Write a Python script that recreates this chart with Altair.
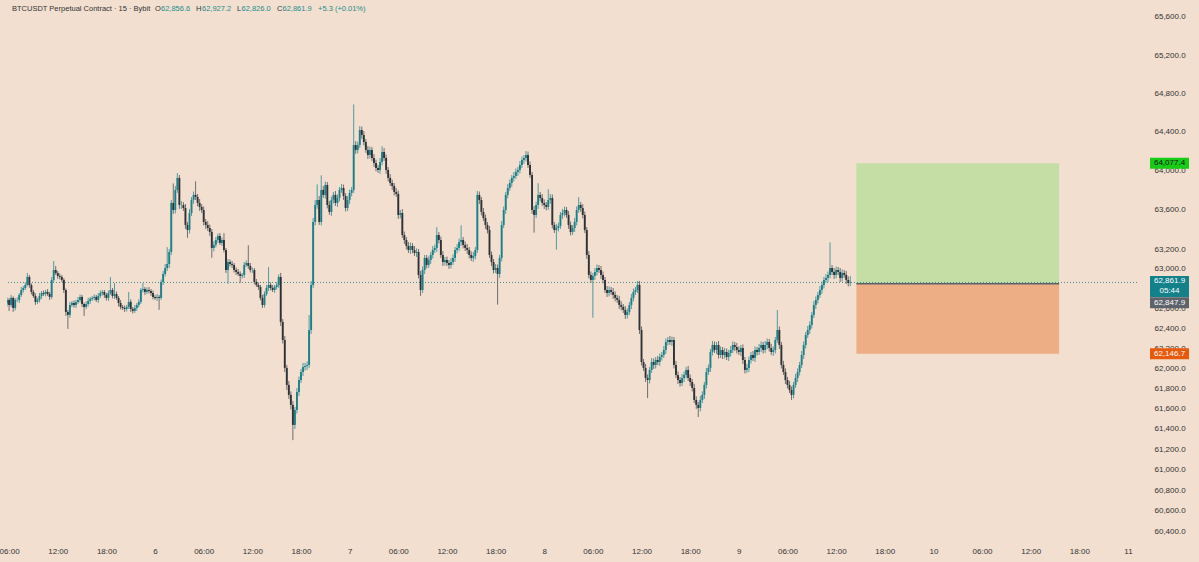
import altair as alt
import pandas as pd

# ---------------- data ----------------
# 15-minute candles, first bar opens day 5 05:45, last bar day 9 13:45
START_HOUR = 5.75      # hours after day-5 00:00
BAR_HOURS = 0.25
FIRST_OPEN = 62650.0

closes_1 = [62686, 62635, 62706, 62605, 62686, 62686, 62736, 62786, 62806, 62837, 62918, 62837, 62766, 62726,
            62666, 62686, 62726, 62756, 62746, 62766, 62746, 62716, 62887, 62988, 62958, 62928, 62918, 62887,
            62786, 62565, 62535, 62635, 62655, 62635, 62666, 62686, 62716, 62645, 62615, 62645, 62676, 62696,
            62706, 62716, 62686, 62726, 62756, 62766, 62736]
closes_2 = [62706, 62756, 62786, 62726, 62746, 62706, 62655, 62615, 62605, 62595, 62615, 62666, 62595, 62575,
            62605, 62635, 62666, 62786, 62796, 62766, 62786, 62776, 62756, 62716, 62706, 62716, 62706, 62867,
            62948, 63008, 63049, 63171, 63670, 63598, 63803, 63926, 63649, 63649, 63618, 63445, 63394, 63567,
            63700, 63752, 63731, 63670, 63629, 63598, 63476, 63445, 63414, 63374, 63211, 63242]
closes_3 = [63292, 63333, 63262, 63292, 63191, 62988, 63069, 63049, 63039, 62988, 62968, 62948, 62928, 62938,
            63039, 63059, 63029, 62988, 62988, 62867, 62837, 62816, 62706, 62635, 62746, 62806, 62837, 62806,
            62786, 62816, 62837, 62918, 62465, 62284, 62005, 61836, 61737, 61638, 61440, 61588, 61766, 61885,
            61965, 62015, 62025, 62035, 62384, 62837, 63476, 63649, 63700, 63476]
closes_4 = [63803, 63752, 63854, 63649, 63578, 63700, 63752, 63670, 63721, 63803, 63823, 63741, 63618, 63700,
            63772, 63803, 64265, 64214, 64265, 64420, 64369, 64296, 64214, 64162, 64214, 64131, 64080, 64029,
            64008, 64090, 64193, 64131, 64008, 63926, 63874, 63844, 63782, 63762, 63547, 63567, 63343, 63292,
            63231, 63191, 63231, 63191, 63160, 63171, 62938, 62786, 62988, 63110]
closes_5 = [63039, 63089, 63140, 63191, 63211, 63343, 63292, 63140, 63069, 63089, 63059, 63039, 63069, 63110,
            63191, 63211, 63272, 63292, 63242, 63211, 63191, 63140, 63110, 63130, 63191, 63752, 63700, 63578,
            63516, 63445, 63394, 63140, 63069, 62988, 63008, 62948, 63110, 63445, 63598, 63752, 63823, 63874,
            63926, 63946, 63988, 64008, 64059, 64111, 64131, 64162, 64059]
closes_6 = [63957, 63598, 63547, 63649, 63752, 63721, 63670, 63649, 63629, 63700, 63721, 63445, 63394, 63414,
            63435, 63547, 63567, 63598, 63547, 63445, 63374, 63414, 63476, 63598, 63649, 63618, 63547, 63394,
            63140, 62938, 62887, 62928, 62968, 63008, 62988, 62938, 62887, 62786, 62756, 62786, 62766, 62736,
            62706, 62686, 62635, 62615, 62585, 62535, 62565, 62635, 62706, 62766, 62786]
closes_7 = [62837, 62384, 62064, 62005, 61905, 61885, 61985, 62064, 62035, 62084, 62064, 62114, 62134, 62184,
            62264, 62284, 62264, 62284, 62035, 61935, 61885, 61855, 61905, 61935, 61985, 61905, 61865, 61806,
            61687, 61638, 61608, 61687, 61737, 61836, 61965, 62005, 62164, 62234, 62184, 62234, 62134, 62184,
            62134, 62164, 62114, 62154, 62184, 62234, 62214, 62184, 62164, 62204]
closes_8 = [62084, 61985, 62005, 62084, 62134, 62104, 62184, 62164, 62204, 62234, 62184, 62234, 62264, 62204,
            62164, 62184, 62284, 62384, 62234, 62035, 61965, 61885, 61836, 61786, 61737, 61836, 61905, 61965,
            62035, 62134, 62234, 62334, 62384, 62434, 62535, 62635, 62686, 62736, 62786, 62837, 62887, 62907,
            62938, 63008, 62968, 62938, 62988, 62968, 62907, 62958, 62938, 62887, 62856.6, 62861.9]

# upper / lower wick lengths (price units) beyond the candle body
upper_1 = [25, 20, 30, 15, 20, 25, 20, 30, 20, 25, 40, 20, 15, 20, 25, 20, 30, 20, 25, 20, 30, 20, 30, 90, 40,
           20, 25, 20, 20, 15, 20, 30, 20, 25, 20, 30, 25, 20, 15, 25, 30, 20, 20, 25, 20, 30, 25, 20, 20]
lower_1 = [30, 60, 20, 40, 25, 20, 30, 20, 25, 20, 15, 30, 25, 20, 30, 20, 25, 30, 20, 25, 20, 30, 20, 25, 20,
           30, 25, 20, 30, 40, 140, 30, 20, 25, 30, 20, 25, 30, 90, 20, 25, 30, 20, 25, 20, 30, 20, 25, 30]
upper_2 = [20, 25, 130, 20, 110, 25, 20, 30, 20, 25, 20, 100, 25, 20, 30, 20, 25, 20, 60, 20, 25, 30, 20, 25, 20,
           30, 20, 25, 30, 40, 170, 30, 30, 200, 40, 50, 30, 40, 30, 40, 30, 40, 30, 35, 140, 30, 40, 30, 35, 30,
           40, 35, 30, 40]
lower_2 = [25, 30, 20, 25, 30, 20, 35, 25, 20, 30, 25, 20, 30, 25, 20, 30, 25, 20, 25, 30, 20, 25, 30, 25, 20,
           30, 120, 20, 30, 25, 30, 40, 30, 40, 35, 30, 40, 40, 30, 40, 80, 35, 30, 40, 30, 35, 40, 30, 35, 40,
           30, 40, 100, 35]
upper_3 = [30, 25, 30, 25, 70, 20, 30, 25, 30, 20, 25, 30, 25, 20, 30, 25, 180, 30, 25, 20, 30, 25, 20, 30, 25,
           30, 180, 25, 30, 20, 30, 25, 40, 30, 40, 30, 40, 35, 40, 30, 40, 35, 30, 40, 30, 35, 150, 40, 40, 50,
           160, 40]
lower_3 = [25, 30, 20, 30, 25, 30, 140, 25, 30, 25, 30, 20, 70, 25, 30, 20, 30, 25, 30, 25, 20, 30, 25, 30, 25,
           20, 30, 25, 20, 30, 25, 30, 40, 35, 40, 50, 40, 45, 150, 40, 35, 40, 30, 40, 35, 40, 30, 40, 30, 35,
           40, 30]
upper_4 = [150, 40, 35, 30, 40, 35, 30, 40, 35, 30, 40, 35, 30, 40, 35, 30, 420, 40, 35, 40, 35, 40, 30, 40, 35,
           30, 40, 35, 30, 40, 60, 40, 35, 30, 40, 35, 30, 40, 35, 30, 40, 35, 30, 40, 35, 30, 40, 35, 30, 40,
           35, 30]
lower_4 = [35, 30, 40, 35, 30, 40, 35, 30, 40, 35, 30, 40, 35, 30, 40, 35, 30, 40, 35, 30, 40, 35, 30, 40, 35,
           30, 40, 35, 30, 40, 35, 30, 40, 35, 30, 40, 35, 30, 40, 35, 30, 40, 35, 30, 40, 35, 30, 40, 35, 60,
           30, 40]
upper_5 = [30, 35, 30, 40, 35, 80, 30, 35, 40, 30, 35, 30, 40, 35, 30, 40, 35, 150, 30, 35, 40, 30, 35, 40, 30,
           40, 35, 30, 40, 35, 30, 40, 35, 30, 40, 35, 30, 40, 35, 30, 40, 35, 30, 40, 35, 30, 40, 35, 30, 40, 35]
lower_5 = [35, 30, 40, 35, 30, 40, 35, 30, 40, 35, 30, 40, 35, 30, 40, 35, 30, 40, 35, 30, 40, 35, 30, 40, 35,
           30, 40, 35, 30, 40, 35, 30, 40, 35, 30, 310, 40, 35, 30, 40, 35, 30, 40, 35, 30, 40, 35, 30, 40, 35, 30]
upper_6 = [35, 30, 40, 35, 120, 30, 40, 35, 30, 110, 40, 35, 30, 40, 35, 30, 40, 35, 30, 40, 35, 30, 40, 35, 80,
           30, 40, 35, 30, 40, 35, 30, 40, 35, 30, 40, 35, 30, 40, 35, 30, 40, 35, 30, 40, 35, 30, 40, 35, 30,
           40, 35, 30]
lower_6 = [30, 40, 180, 30, 40, 35, 30, 40, 35, 30, 40, 35, 30, 200, 35, 30, 40, 35, 30, 40, 35, 30, 40, 35, 30,
           40, 35, 30, 40, 35, 30, 380, 40, 35, 30, 40, 35, 30, 40, 35, 30, 40, 35, 30, 40, 35, 30, 40, 35, 30,
           40, 35, 30]
upper_7 = [40, 40, 35, 30, 40, 35, 30, 40, 35, 30, 40, 35, 30, 40, 35, 30, 40, 35, 30, 40, 35, 30, 40, 35, 30,
           40, 35, 30, 40, 35, 30, 40, 35, 30, 40, 35, 30, 40, 35, 30, 40, 35, 30, 40, 35, 30, 40, 35, 30, 40,
           35, 30]
lower_7 = [30, 40, 35, 30, 40, 180, 35, 30, 40, 35, 30, 40, 35, 30, 40, 35, 30, 40, 35, 30, 40, 35, 30, 40, 35,
           30, 40, 35, 30, 40, 90, 35, 30, 40, 35, 30, 40, 35, 30, 40, 35, 30, 40, 35, 30, 40, 35, 30, 40, 35,
           30, 40]
upper_8 = [35, 30, 40, 35, 30, 40, 35, 30, 40, 35, 30, 40, 35, 30, 40, 35, 30, 200, 35, 30, 40, 35, 30, 40, 35,
           30, 40, 35, 30, 40, 35, 30, 40, 35, 30, 40, 35, 30, 40, 35, 30, 40, 35, 260, 30, 40, 35, 30, 40, 35,
           30, 40, 35, 65.3]
lower_8 = [40, 35, 30, 40, 35, 30, 40, 35, 30, 40, 35, 30, 40, 35, 30, 40, 35, 30, 40, 35, 30, 40, 35, 30, 50,
           35, 30, 40, 35, 30, 40, 35, 30, 40, 35, 30, 40, 35, 30, 40, 35, 30, 40, 35, 30, 40, 35, 30, 40, 35,
           30, 40, 35, 30.6]

# long-position tool
entry_price = [62847.9]
target_price = [64077.4]
stop_price = [62146.7]
tool_start = [110.5]   # hours after day-5 00:00
tool_end = [135.5]
last_price = [62861.9]

# price-scale labels (62,800 sits fully behind the last-price tag in the reference)
y_ticks = [60400, 60600, 60800, 61000, 61200, 61400, 61600, 61800, 62000, 62200, 62400, 62600,
           63000, 63200, 63600, 64000, 64400, 64800, 65200, 65600]
x_ticks = list(range(6, 145, 6))

# ---------------- styling ----------------
BG = "#f2dfd0"
BULL = "#19808a"
BEAR = "#2e3237"
BULL_WICK = "#4f9aa0"
BEAR_WICK = "#6e6e6e"
TEAL_TXT = "#1b8c8c"
DARK_TXT = "#333333"
FONT = "Liberation Sans, Arial"

closes = closes_1 + closes_2 + closes_3 + closes_4 + closes_5 + closes_6 + closes_7 + closes_8
uppers = upper_1 + upper_2 + upper_3 + upper_4 + upper_5 + upper_6 + upper_7 + upper_8
lowers = lower_1 + lower_2 + lower_3 + lower_4 + lower_5 + lower_6 + lower_7 + lower_8

rows = []
prev = FIRST_OPEN
for i, c in enumerate(closes):
    o = prev
    up = c >= o
    rows.append({
        "t": START_HOUR + i * BAR_HOURS,
        "open": o, "close": c,
        "high": max(o, c) + uppers[i],
        "low": min(o, c) - lowers[i],
        "body_color": BULL if up else BEAR,
        "wick_color": BULL_WICK if up else BEAR_WICK,
    })
    prev = c
df = pd.DataFrame(rows)

W, H = 1130, 540
xscale = alt.Scale(domain=[5.741, 145.11], nice=False, zero=False)
yscale = alt.Scale(type="log", domain=[60315, 65779], nice=False, zero=False)

label_expr = ("datum.value % 24 == 0 ? format(5 + datum.value / 24, 'd') : "
              "(datum.value % 24 < 10 ? '0' : '') + format(datum.value % 24, 'd') + ':00'")
xaxis = alt.Axis(values=x_ticks, labelExpr=label_expr, grid=False, ticks=False, domain=False,
                 title=None, labelFont=FONT, labelFontSize=8, labelColor=DARK_TXT, labelPadding=7,
                 labelOverlap=False, labelFlush=False)
yaxis = alt.Axis(values=y_ticks, format=",.1f", orient="right", grid=False, ticks=False, domain=False,
                 title=None, labelFont=FONT, labelFontSize=8, labelColor=DARK_TXT, labelPadding=17,
                 labelAlign="left", labelOverlap=False, labelFlush=False)

base = alt.Chart(df)
wicks = base.mark_rule(strokeWidth=1, clip=True).encode(
    x=alt.X("t:Q", scale=xscale, axis=xaxis),
    y=alt.Y("low:Q", scale=yscale, axis=yaxis),
    y2="high:Q",
    color=alt.Color("wick_color:N", scale=None),
)
bodies = base.mark_rule(strokeWidth=1.9, clip=True).encode(
    x="t:Q", y="open:Q", y2="close:Q",
    color=alt.Color("body_color:N", scale=None),
)

tool = pd.DataFrame({"t0": tool_start, "t1": tool_end, "entry": entry_price,
                     "target": target_price, "stop": stop_price})
tool_base = alt.Chart(tool)
profit = tool_base.mark_rect(color="#c4dea6", opacity=1).encode(x="t0:Q", x2="t1:Q", y="entry:Q", y2="target:Q")
loss = tool_base.mark_rect(color="#edae86", opacity=1).encode(x="t0:Q", x2="t1:Q", y="stop:Q", y2="entry:Q")
entry_line = tool_base.mark_rule(color="#5b6168", strokeWidth=1.5).encode(x="t0:Q", x2="t1:Q", y="entry:Q")

price_line = alt.Chart(pd.DataFrame({"p": last_price})).mark_rule(
    color="#3f8b90", strokeWidth=1, strokeDash=[1, 2]).encode(y="p:Q")

# price-axis tags
TAG_X = 1162.5  # centre of tag in plot coordinates


def rect_path(h_px, w_px=39.0):
    k = (h_px / 2.0) / (w_px / 2.0)
    return f"M-1,-{k:.3f}L1,-{k:.3f}L1,{k:.3f}L-1,{k:.3f}Z"


def tag(price, label, fill, txt_color, y_off=0, h_px=11, sub=None):
    d = pd.DataFrame({"p": [price]})
    c = alt.Chart(d)
    box = c.mark_point(shape=rect_path(h_px), size=39.0 ** 2, filled=True, opacity=1, color=fill,
                       strokeWidth=0, yOffset=y_off, clip=False).encode(x=alt.value(TAG_X), y="p:Q")
    layers = [box]
    ty = y_off - (5 if sub else 0)
    layers.append(c.mark_text(text=label, font=FONT, fontSize=8, color=txt_color, align="center",
                              baseline="middle", dy=ty, clip=False).encode(x=alt.value(TAG_X), y="p:Q"))
    if sub:
        layers.append(c.mark_text(text=sub, font=FONT, fontSize=8, color=txt_color, align="center",
                                  baseline="middle", dy=y_off + 5, clip=False).encode(x=alt.value(TAG_X), y="p:Q"))
    return layers


tags = []
tags += tag(target_price[0], "64,077.4", "#16cc16", "#111111")
tags += tag(stop_price[0], "62,146.7", "#e8590c", "#ffffff")
tags += tag(entry_price[0], "62,847.9", "#5d636b", "#ffffff", y_off=19)
tags += tag(last_price[0], "62,861.9", "#13808a", "#ffffff", y_off=4, h_px=21, sub="05:44")

# header legend (x positions in plot pixels)
one = pd.DataFrame({"a": [0]})
header_pieces = [
    (5, "BTCUSDT Perpetual Contract · 15 · Bybit", DARK_TXT),
    (148, "O", DARK_TXT), (154, "62,856.6", TEAL_TXT),
    (189, "H", DARK_TXT), (195, "62,927.2", TEAL_TXT),
    (230, "L", DARK_TXT), (234.5, "62,826.0", TEAL_TXT),
    (270, "C", DARK_TXT), (275.5, "62,861.9", TEAL_TXT),
    (311, "+5.3 (+0.01%)", TEAL_TXT),
]
header = [alt.Chart(one).mark_text(text=t, font=FONT, fontSize=7.5, color=col, align="left",
                                   baseline="middle").encode(x=alt.value(px), y=alt.value(9))
          for px, t, col in header_pieces]

chart = alt.layer(
    profit, loss, entry_line, price_line, wicks, bodies, *tags, *header
).properties(
    width=W, height=H,
    autosize=alt.AutoSizeParams(type="none"),
    padding={"left": 7, "top": 0, "right": 62, "bottom": 22},
    background=BG,
).configure_view(fill=BG, stroke=None)

chart.save("out.html", embed_options={"renderer": "svg", "actions": False})
